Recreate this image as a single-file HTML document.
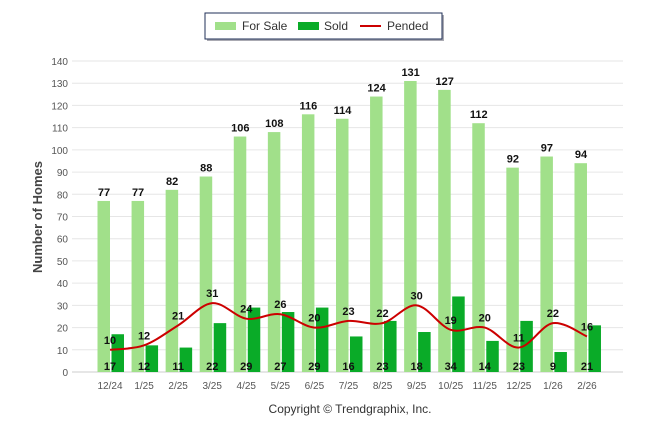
<!DOCTYPE html>
<html><head><meta charset="utf-8"><style>
body{margin:0;background:#fff;width:646px;height:434px;overflow:hidden;font-family:"Liberation Sans",Arial,sans-serif}
</style></head><body>
<svg id="c" width="646" height="434" xmlns="http://www.w3.org/2000/svg">
<g>
<rect x="207" y="15" width="237" height="26" fill="#556" opacity="0.5"/>
<rect x="205" y="13" width="237" height="26" fill="#fff" stroke="#1f2f57" stroke-width="1"/>
<rect x="215" y="22" width="21" height="8" fill="#a1e08a"/>
<text x="242" y="30" font-size="12" fill="#333">For Sale</text>
<rect x="298" y="22" width="21" height="8" fill="#0aab28"/>
<text x="324" y="30" font-size="12" fill="#333">Sold</text>
<line x1="360" y1="26" x2="381" y2="26" stroke="#cc0000" stroke-width="2"/>
<text x="387" y="30" font-size="12" fill="#333">Pended</text>
</g>
<text transform="translate(42,217) rotate(-90)" text-anchor="middle" font-size="13" font-weight="bold" fill="#444">Number of Homes</text>
<text x="350" y="413" text-anchor="middle" font-size="12" fill="#333">Copyright © Trendgraphix, Inc.</text>
<g id="grid"></g><g id="bars"></g><g id="line"></g><g id="labels"></g>
</svg>
<script>
const categories=["12/24","1/25","2/25","3/25","4/25","5/25","6/25","7/25","8/25","9/25","10/25","11/25","12/25","1/26","2/26"];
const forSale=[77,77,82,88,106,108,116,114,124,131,127,112,92,97,94];
const sold=[17,12,11,22,29,27,29,16,23,18,34,14,23,9,21];
const pended=[10,12,21,31,24,26,20,23,22,30,19,20,11,22,16];
const yTicks=[0,10,20,30,40,50,60,70,80,90,100,110,120,130,140];
const NS="http://www.w3.org/2000/svg";
const y0=372,yTop=61,yMax=140,left=72,right=623,x0=110,dx=34.07;
const y=v=>y0-(v/yMax)*(y0-yTop);
const x=i=>x0+i*dx;
function mk(tag,attrs,parent){const e=document.createElementNS(NS,tag);for(const k in attrs)e.setAttribute(k,attrs[k]);document.getElementById(parent).appendChild(e);return e;}
yTicks.forEach(t=>{
 const l=mk("line",{x1:left,x2:right,y1:y(t),y2:y(t),stroke:t===0?"#ccc":"#e6e6e6","stroke-width":1},"grid");
 
 
 const tx=mk("text",{x:68,y:y(t)+4,"text-anchor":"end","font-size":10,fill:"#555"},"grid");tx.textContent=t;
 
 
});
categories.forEach((c,i)=>{
 const tx=mk("text",{x:x(i),y:389,"text-anchor":"middle","font-size":10,fill:"#555"},"grid");tx.textContent=c;
 
 
 const b=mk("rect",{x:x(i)-12.5,y:y(forSale[i]),width:12.5,height:y0-y(forSale[i]),fill:"#a1e08a"},"bars");
 
 
 const s=mk("rect",{x:x(i)+1.5,y:y(sold[i]),width:12.5,height:y0-y(sold[i]),fill:"#0aab28"},"bars");
 
 
 const f=mk("text",{x:x(i)-6,y:y(forSale[i])-5,"text-anchor":"middle","font-size":11,"font-weight":"bold",fill:"#111"},"labels");f.textContent=forSale[i];
 
 
 const sv=mk("text",{x:x(i),y:370,"text-anchor":"middle","font-size":11,"font-weight":"bold",fill:"#111"},"labels");sv.textContent=sold[i];
 
 
 const pv=mk("text",{x:x(i),y:y(pended[i])-6,"text-anchor":"middle","font-size":11,"font-weight":"bold",fill:"#111"},"labels");pv.textContent=pended[i];
 
 
});
// smooth line (catmull-rom)
const pts=pended.map((v,i)=>[x(i),y(v)]);
let d="M"+pts[0][0]+","+pts[0][1];
for(let i=0;i<pts.length-1;i++){
 const p0=pts[Math.max(i-1,0)],p1=pts[i],p2=pts[i+1],p3=pts[Math.min(i+2,pts.length-1)];
 const c1=[p1[0]+(p2[0]-p0[0])/6,p1[1]+(p2[1]-p0[1])/6],c2=[p2[0]-(p3[0]-p1[0])/6,p2[1]-(p3[1]-p1[1])/6];
 d+=" C"+c1+" "+c2+" "+p2;
}
const ln=mk("path",{d:d,fill:"none",stroke:"#cc0000","stroke-width":2},"line");


</script>
</body></html>
